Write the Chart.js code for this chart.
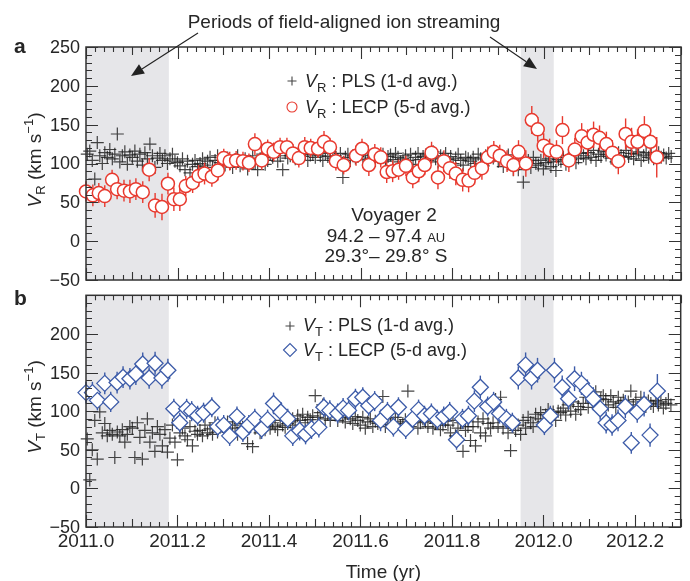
<!DOCTYPE html>
<html><head><meta charset="utf-8">
<style>
html,body{margin:0;padding:0;background:#fff;}
#wrap{position:relative;width:690px;height:581px;overflow:hidden;background:#fff;}
canvas{position:absolute;left:0;}
</style>
<script src="https://cdn.jsdelivr.net/npm/chart.js@4.4.1/dist/chart.umd.min.js"></script>
</head><body>
<div id="wrap">
<canvas id="c1" width="690" height="288" style="top:0;width:690px;height:288px"></canvas>
<canvas id="c2" width="690" height="295" style="top:286px;width:690px;height:295px"></canvas>
</div>
<script>
// ---------------- data ----------------
const xTickValues = [2011.0, 2011.2, 2011.4, 2011.6, 2011.8, 2012.0, 2012.2];
const xTickLabels = ['2011.0','2011.2','2011.4','2011.6','2011.8','2012.0','2012.2'];
const yTickValuesR = [-50, 0, 50, 100, 150, 200, 250];
const yTickValuesT = [-50, 0, 50, 100, 150, 200];
const xRange = [2011.0, 2012.3];
const yRange = [-50, 250];
const streamingPeriods = [[2011.0, 2011.181], [2011.950, 2012.022]];

// PLS 1-day averages (every 2nd day), starting day 1 of 2011
const plsFirstDay = 1, plsStepDays = 2;
const plsVR = [
112,116,104,80,127,110,100,114,108,
118,106,112,138,102,110,115,99,111,
108,116,103,112,98,114,106,125,110,
95,107,113,104,110,100,106,112,103,
101,97,106,92,103,88,99,104,96,
100,106,98,103,108,95,104,110,101,
104,98,107,100,95,105,110,97,103,
106,93,103,110,100,92,106,112,99,
104,112,108,116,103,110,92,114,107,
110,115,106,112,118,109,113,104,111,
112,108,116,110,104,113,109,115,107,
110,105,113,82,108,112,104,110,107,
109,113,105,110,115,107,111,104,108,
107,112,103,109,111,105,113,108,102,
106,110,104,112,99,108,113,105,109,
111,104,108,115,106,102,110,107,113,
105,109,100,107,112,104,98,108,106,
103,108,100,112,106,97,110,104,109,
107,112,103,109,96,106,111,100,92,
101,92,106,76,99,104,95,108,100,
98,104,93,101,106,96,102,91,105,
103,108,99,110,105,112,101,107,113,
110,106,114,108,117,104,112,109,115,
111,116,107,113,102,114,110,108,117,
109,113,106,112,115,104,110,114,108,
112,106,110,114,108,111,107,113,109];
const plsVT = [
64,11,50,88,38,99,72,84,68,
75,70,40,73,68,76,60,70,80,
78,40,85,66,38,75,90,60,72,
48,80,70,55,76,47,65,82,60,
37,72,78,68,63,80,55,74,70,
75,68,82,72,77,70,85,73,79,
80,76,86,72,82,78,70,84,79,
75,58,82,54,78,85,72,80,76,
82,78,85,80,76,88,82,79,84,
86,90,82,94,88,96,85,92,89,
94,120,92,98,108,90,96,88,100,
95,88,102,92,86,97,90,84,93,
88,82,92,78,86,90,80,87,84,
85,119,80,90,83,78,92,86,81,
84,89,126,80,87,92,78,85,90,
86,80,92,78,84,88,76,82,87,
82,72,88,68,78,85,48,75,80,
62,80,55,86,72,90,68,84,78,
85,115,80,118,78,88,72,49,82,
75,82,70,88,78,92,85,80,96,
90,98,86,95,102,92,99,88,100,
98,104,95,108,100,112,96,106,102,
110,118,105,122,112,125,108,116,120,
115,108,120,112,105,118,110,114,106,
112,126,108,115,104,118,110,106,113,
110,106,114,108,112,104,110,115,108];

// LECP 5-day averages, V_R
const lecpRTime = [
2011.000,2011.015,2011.028,2011.041,2011.057,2011.068,2011.083,2011.096,2011.109,2011.124,
2011.138,2011.151,2011.166,2011.179,2011.192,2011.205,2011.218,2011.233,2011.246,2011.259,
2011.275,2011.288,2011.301,2011.314,2011.328,2011.343,2011.356,2011.369,2011.384,2011.397,
2011.410,2011.424,2011.439,2011.452,2011.465,2011.478,2011.491,2011.507,2011.520,2011.533,
2011.546,2011.563,2011.590,2011.603,2011.618,2011.631,2011.644,2011.657,2011.670,2011.683,
2011.699,2011.714,2011.727,2011.740,2011.755,2011.769,2011.782,2011.795,2011.808,2011.823,
2011.836,2011.849,2011.865,2011.878,2011.891,2011.904,2011.920,2011.934,2011.945,2011.961,
2011.974,2011.987,2012.000,2012.013,2012.028,2012.041,2012.055,2012.068,2012.083,2012.096,
2012.109,2012.122,2012.137,2012.150,2012.163,2012.179,2012.192,2012.205,2012.220,2012.233,
2012.247];
const lecpRVal = [
64,59,62,58,79,67,65,64,67,63,
92,46,44,74,54,54,71,75,84,87,
83,91,107,103,104,103,101,125,104,119,
115,121,121,113,107,121,120,119,128,121,
103,98,110,119,98,112,108,89,90,92,
97,82,90,98,114,82,103,94,87,79,
78,88,94,108,115,110,103,98,115,100,
156,144,123,117,115,143,104,118,135,127,
137,133,125,114,103,138,128,128,142,128,
108];
const lecpRErr = [
13,14,13,14,13,13,14,15,14,14,
15,16,17,14,15,15,13,13,14,14,
13,13,12,12,12,12,12,14,12,12,
12,12,12,12,12,13,12,12,14,12,
12,12,13,13,14,13,13,14,14,13,
13,14,14,13,14,15,14,14,15,15,
15,15,15,14,14,14,14,14,15,17,
18,16,16,15,15,18,15,15,17,17,
17,16,16,16,17,20,18,16,19,18,
26];

// LECP 5-day averages, V_T
const lecpTTime = [
2011.000,2011.014,2011.025,2011.041,2011.054,2011.068,2011.081,2011.096,2011.109,2011.124,
2011.138,2011.151,2011.166,2011.179,2011.192,2011.205,2011.220,2011.231,2011.244,2011.257,
2011.275,2011.288,2011.301,2011.314,2011.330,2011.343,2011.356,2011.369,2011.384,2011.397,
2011.410,2011.426,2011.441,2011.452,2011.467,2011.480,2011.493,2011.509,2011.520,2011.533,
2011.550,2011.562,2011.574,2011.589,2011.605,2011.618,2011.631,2011.644,2011.659,2011.672,
2011.683,2011.699,2011.714,2011.727,2011.740,2011.755,2011.768,2011.782,2011.795,2011.810,
2011.823,2011.836,2011.849,2011.862,2011.878,2011.891,2011.904,2011.919,2011.932,2011.945,
2011.961,2011.974,2011.987,2012.002,2012.015,2012.024,2012.041,2012.055,2012.068,2012.083,
2012.096,2012.109,2012.124,2012.137,2012.150,2012.163,2012.179,2012.192,2012.205,2012.220,
2012.233,2012.249];
const lecpTVal = [
124,124,114,136,112,137,144,142,148,161,
143,162,143,153,103,85,103,100,94,98,
105,80,82,68,93,73,82,90,77,89,
110,99,90,68,75,70,77,79,105,101,
97,104,101,116,118,107,113,88,99,80,
105,77,90,102,94,97,89,93,99,63,
90,94,113,131,106,112,97,90,85,143,
160,143,153,82,94,153,131,116,142,136,
126,116,103,85,82,88,106,59,99,109,
69,126];
const lecpTErr = [
14,14,13,14,13,14,14,14,14,15,
14,15,14,15,13,13,13,13,13,13,
13,13,13,13,13,13,13,13,13,13,
14,13,13,13,13,13,13,13,13,13,
13,13,13,13,13,13,13,14,13,13,
13,13,13,13,13,13,13,13,13,13,
13,13,14,15,13,13,13,13,13,15,
16,15,16,13,13,16,15,14,16,15,
15,15,14,14,14,14,15,14,14,16,
15,22];

// ---------------- styling ----------------
const FONT = '"Liberation Sans", Arial, Helvetica, sans-serif';
const INK = '#262626';
const CROSS = 'rgba(28,28,28,0.82)';
const RED = '#e8392e';
const BLUE = '#3c5ba8';
const SHADE = '#e6e6e9';

function plsPoints(vals){
  return vals.map((v,i)=>({x: xRange[0] + (plsFirstDay + i*plsStepDays)/365.25, y: v}));
}
function zipPoints(t, v){ return t.map((tt,i)=>({x: tt, y: v[i]})); }
function fmtTick(v){ return v < 0 ? '\u2212' + Math.abs(v) : String(v); }

function drawRuns(ctx, runs, x, y, align){
  let w = 0;
  runs.forEach(r=>{ ctx.font = r.font; r.w = ctx.measureText(r.t).width; w += r.w; });
  let cx = align === 'center' ? x - w/2 : (align === 'right' ? x - w : x);
  ctx.textAlign = 'left'; ctx.textBaseline = 'alphabetic';
  runs.forEach(r=>{ ctx.font = r.font; ctx.fillText(r.t, cx, y + (r.dy||0)); cx += r.w; });
}
function drawArrow(ctx, x1, y1, x2, y2){
  const ang = Math.atan2(y2-y1, x2-x1), L = 13, H = 5.5;
  const bx = x2 - L*Math.cos(ang), by = y2 - L*Math.sin(ang);
  ctx.beginPath(); ctx.moveTo(x1,y1); ctx.lineTo(bx,by); ctx.stroke();
  ctx.beginPath(); ctx.moveTo(x2,y2);
  ctx.lineTo(bx - H*Math.sin(ang), by + H*Math.cos(ang));
  ctx.lineTo(bx + H*Math.sin(ang), by - H*Math.cos(ang));
  ctx.closePath(); ctx.fill();
}
function yTitleRuns(sub){
  return [
    {t:'V', font:'italic 19px '+FONT},
    {t:sub, font:'13px '+FONT, dy:4},
    {t:' (km s', font:'19px '+FONT},
    {t:'\u22121', font:'13px '+FONT, dy:-8},
    {t:')', font:'19px '+FONT}
  ];
}
function legendRuns(sub, txt){
  return [
    {t:'V', font:'italic 18px '+FONT},
    {t:sub, font:'13px '+FONT, dy:5},
    {t:txt, font:'18px '+FONT}
  ];
}

function panelPlugin(p){
  return {
    id: 'panel_' + p.name,
    beforeDatasetsDraw(chart){
      const {ctx, chartArea:a, scales:{x}} = chart;
      ctx.save(); ctx.fillStyle = SHADE;
      streamingPeriods.forEach(([t0,t1])=>{
        const x0 = Math.max(a.left, x.getPixelForValue(t0));
        const x1 = Math.min(a.right, x.getPixelForValue(t1));
        ctx.fillRect(x0, a.top, x1-x0, a.bottom-a.top);
      });
      ctx.restore();
    },
    afterDatasetDraw(chart, args){
      if (args.index !== 0) return; // after PLS crosses: error bars of LECP
      const {ctx, scales:{x, y}} = chart;
      ctx.save(); ctx.strokeStyle = p.errColor; ctx.lineWidth = 1.4;
      p.errT.forEach((t,i)=>{
        const px = x.getPixelForValue(t);
        ctx.beginPath();
        ctx.moveTo(px, y.getPixelForValue(p.errV[i]-p.errE[i]));
        ctx.lineTo(px, y.getPixelForValue(p.errV[i]+p.errE[i]));
        ctx.stroke();
      });
      ctx.restore();
    },
    afterDraw(chart){
      const {ctx, chartArea:a, scales:{x, y}} = chart;
      ctx.save();
      // frame
      ctx.strokeStyle = '#333'; ctx.lineWidth = 1.5;
      ctx.strokeRect(a.left, a.top, a.right-a.left, a.bottom-a.top);
      // inward ticks
      ctx.lineWidth = 1.1;
      ctx.beginPath();
      for (let k = 0; k <= 65; k++){
        const v = xRange[0] + k*0.02;
        if (v > xRange[1] + 1e-9) break;
        const px = Math.round(x.getPixelForValue(v)) + 0.5;
        const len = (k % 10 === 0) ? 12 : (k % 5 === 0 ? 8 : 5);
        ctx.moveTo(px, a.bottom); ctx.lineTo(px, a.bottom - len);
        ctx.moveTo(px, a.top); ctx.lineTo(px, a.top + len);
      }
      for (let v = yRange[0]; v <= yRange[1]; v += 10){
        const py = Math.round(y.getPixelForValue(v)) + 0.5;
        const len = (v % 50 === 0) ? 12 : 6;
        ctx.moveTo(a.left, py); ctx.lineTo(a.left + len, py);
        ctx.moveTo(a.right, py); ctx.lineTo(a.right - len, py);
      }
      ctx.stroke();
      // y tick labels
      ctx.fillStyle = INK; ctx.font = '18px ' + FONT;
      ctx.textAlign = 'right'; ctx.textBaseline = 'middle';
      p.yTicks.forEach(v=>{ ctx.fillText(fmtTick(v), a.left - 6, y.getPixelForValue(v) + 1); });
      // x tick labels
      if (p.xLabels){
        ctx.textAlign = 'center'; ctx.textBaseline = 'alphabetic'; ctx.font = '19px ' + FONT;
        xTickValues.forEach((v,i)=>{ ctx.fillText(xTickLabels[i], x.getPixelForValue(v), a.bottom + 20); });
        ctx.font = '19px ' + FONT;
        ctx.fillText('Time (yr)', (a.left + a.right)/2, a.bottom + 51);
      }
      // panel letter
      ctx.textAlign = 'left'; ctx.textBaseline = 'alphabetic';
      ctx.font = 'bold 21px ' + FONT;
      ctx.fillText(p.letter, 14, p.letterY);
      // y title
      ctx.save();
      ctx.translate(41, p.yTitleY); ctx.rotate(-Math.PI/2);
      drawRuns(ctx, yTitleRuns(p.sub), 0, 0, 'center');
      ctx.restore();
      // legend
      const H = Chart.helpers;
      ctx.strokeStyle = CROSS; ctx.fillStyle = CROSS;
      H.drawPoint(ctx, {pointStyle:'cross', radius:4.5, borderWidth:1.2, rotation:0}, p.legX, p.legY1);
      ctx.strokeStyle = p.errColor; ctx.fillStyle = '#fff';
      H.drawPoint(ctx, p.legMarker, p.legX, p.legY2);
      ctx.fillStyle = INK;
      drawRuns(ctx, legendRuns(p.sub, ' : PLS (1-d avg.)'), p.legTextX, p.legBase1, 'left');
      drawRuns(ctx, legendRuns(p.sub, ' : LECP (5-d avg.)'), p.legTextX, p.legBase2, 'left');
      if (p.extra) p.extra(ctx, chart);
      ctx.restore();
    }
  };
}

function makeChart(id, pls, lecp, marker, pad, plugin){
  return new Chart(document.getElementById(id), {
    type: 'scatter',
    data: { datasets: [
      { label:'PLS', data: pls, order:2, clip:false,
        pointStyle:'cross', pointRadius:6.5, pointBorderWidth:1.2,
        pointBorderColor:CROSS, pointBackgroundColor:CROSS },
      { label:'LECP', data: lecp, order:1, clip:false,
        pointStyle:marker.style, pointRadius:marker.r, pointBorderWidth:marker.bw,
        pointBorderColor:marker.color, pointBackgroundColor:'#ffffff' }
    ]},
    options: {
      responsive:false, devicePixelRatio:1, animation:false, events:[],
      layout:{ padding: pad },
      plugins:{ legend:{display:false}, tooltip:{enabled:false} },
      scales:{
        x:{ type:'linear', min:xRange[0], max:xRange[1], display:false },
        y:{ type:'linear', min:yRange[0], max:yRange[1], display:false }
      }
    },
    plugins:[plugin]
  });
}

// ---- top panel (a) ----
makeChart('c1', plsPoints(plsVR), zipPoints(lecpRTime, lecpRVal),
  {style:'circle', r:6.5, bw:1.5, color:RED},
  {left:86, right:9, top:47, bottom:3},
  panelPlugin({
    name:'a', letter:'a', letterY:53, sub:'R', yTitleY:160, yTicks:yTickValuesR,
    errT:lecpRTime, errV:lecpRVal, errE:lecpRErr, errColor:RED,
    legX:292, legY1:81, legY2:107, legTextX:305, legBase1:87, legBase2:113,
    legMarker:{pointStyle:'circle', radius:5, borderWidth:1.4, rotation:0},
    xLabels:false,
    extra(ctx){
      ctx.fillStyle = INK; ctx.textAlign = 'center'; ctx.textBaseline = 'alphabetic';
      ctx.font = '19px ' + FONT;
      ctx.fillText('Periods of field-aligned ion streaming', 344, 28);
      ctx.strokeStyle = '#222'; ctx.fillStyle = '#222'; ctx.lineWidth = 1.1;
      drawArrow(ctx, 198, 33, 131, 76);
      drawArrow(ctx, 490, 37, 537, 69);
      ctx.fillStyle = INK;
      ctx.font = '19px ' + FONT; ctx.textAlign = 'center';
      ctx.fillText('Voyager 2', 394, 221);
      drawRuns(ctx, [{t:'94.2 \u2013 97.4 ', font:'19px '+FONT}, {t:'AU', font:'13px '+FONT}], 386, 242, 'center');
      drawRuns(ctx, [{t:'29.3\u00b0\u2013 29.8\u00b0 S', font:'19px '+FONT}], 386, 262, 'center');
    }
  })
);

// ---- bottom panel (b) ----
makeChart('c2', plsPoints(plsVT), zipPoints(lecpTTime, lecpTVal),
  {style:'rectRot', r:8, bw:1.3, color:BLUE},
  {left:86, right:9, top:2, bottom:54},
  panelPlugin({
    name:'b', letter:'b', letterY:19, sub:'T', yTitleY:121, yTicks:yTickValuesT,
    errT:lecpTTime, errV:lecpTVal, errE:lecpTErr, errColor:BLUE,
    legX:290, legY1:40, legY2:64, legTextX:303, legBase1:45, legBase2:70,
    legMarker:{pointStyle:'rectRot', radius:6.5, borderWidth:1.3, rotation:0},
    xLabels:true
  })
);
</script>
</body></html>
